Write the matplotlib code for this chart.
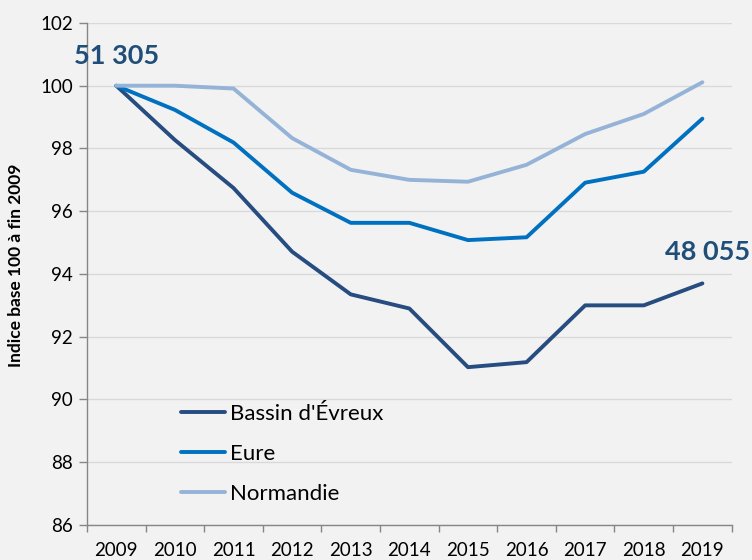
import numpy as np
import matplotlib
matplotlib.use("Agg")
import matplotlib.pyplot as plt
from matplotlib.ticker import FixedLocator, MultipleLocator

plt.rcParams['font.family'] = ['Lato', 'DejaVu Sans']

years = ['2009', '2010', '2011', '2012', '2013', '2014', '2015', '2016', '2017', '2018', '2019']
bassin = [100, 98.27, 96.74, 94.71, 93.35, 92.9, 91.03, 91.19, 93.0, 93.0, 93.7]
eure = [100, 99.23, 98.19, 96.59, 95.63, 95.63, 95.08, 95.17, 96.91, 97.26, 98.95]
normandie = [100, 100.0, 99.91, 98.33, 97.32, 97.0, 96.94, 97.48, 98.46, 99.1, 100.11]
label_start = "51 305"
label_end = "48 055"

c_dark = '#264C80'
c_mid = '#0070C0'
c_light = '#95B3D7'
bg = '#F2F2F2'

fig = plt.figure(figsize=(7.52, 5.6), dpi=100, facecolor=bg)
ax = fig.add_axes([0.1157, 0.0625, 0.8573, 0.8965], facecolor=bg)

x = np.arange(len(years))
ax.plot(x, bassin, color=c_dark, lw=2.8, label="Bassin d'Évreux", solid_capstyle='round')
ax.plot(x, eure, color=c_mid, lw=2.8, label="Eure", solid_capstyle='round')
ax.plot(x, normandie, color=c_light, lw=2.8, label="Normandie", solid_capstyle='round')

ax.set_xlim(-0.5, len(years) - 0.5)
ax.set_ylim(86, 102)
ax.yaxis.set_major_locator(MultipleLocator(2))
ax.grid(axis='y', color='#D9D9D9', lw=1)
ax.set_axisbelow(True)

ax.set_xticks(x)
ax.set_xticklabels(years)
ax.xaxis.set_minor_locator(FixedLocator(np.arange(-0.5, len(years), 1)))
ax.tick_params(axis='x', which='major', length=0, pad=12, labelsize=13.5, colors='#000000')
ax.tick_params(axis='x', which='minor', length=5, width=1, color='#868686')
ax.tick_params(axis='y', length=6, width=1, color='#868686', labelsize=13.5, pad=4)

for s in ['top', 'right']:
    ax.spines[s].set_visible(False)
for s in ['left', 'bottom']:
    ax.spines[s].set_color('#868686')
    ax.spines[s].set_linewidth(1)

ax.set_ylabel("Indice base 100 à fin 2009", fontsize=12.5, fontweight='bold')
ax.yaxis.set_label_coords(-0.097, 0.517)

ax.text(0, bassin[0] + 0.95, label_start, color='#1F4E79', fontsize=19.5,
        fontweight='bold', ha='center', va='center')
ax.text(10.08, bassin[-1] + 1.0, label_end, color='#1F4E79', fontsize=19.5,
        fontweight='bold', ha='center', va='center', clip_on=False)

ax.legend(loc='lower left', bbox_to_anchor=(0.132, 0.024), borderaxespad=0, frameon=False,
          fontsize=16, handlelength=2.0, handletextpad=0.2, labelspacing=0.9)

fig.savefig('out.png', dpi=100, facecolor=bg)
